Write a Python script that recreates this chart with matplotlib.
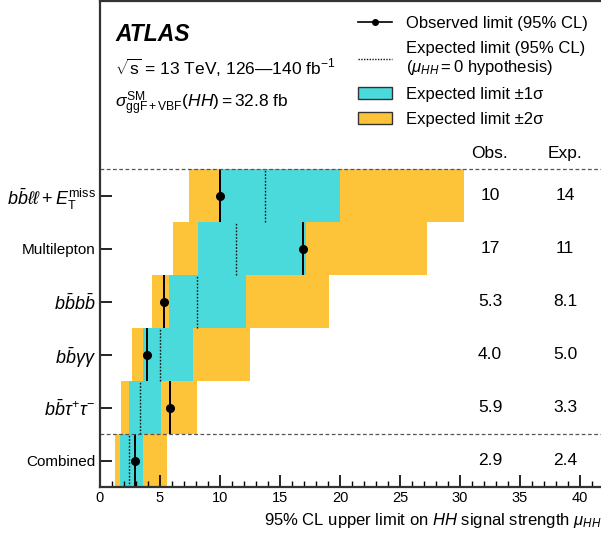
import numpy as np
import matplotlib.pyplot as plt
from matplotlib.lines import Line2D
from matplotlib.patches import Patch

plt.rcParams['font.family'] = ['Liberation Sans', 'DejaVu Sans']
plt.rcParams['mathtext.fontset'] = 'custom'
plt.rcParams['mathtext.rm'] = 'Liberation Sans'
plt.rcParams['mathtext.it'] = 'Liberation Sans:italic'
plt.rcParams['mathtext.bf'] = 'Liberation Sans:bold'

# channels, bottom to top
channels = ["Combined", r"$b\bar{b}\tau^{+}\tau^{-}$", r"$b\bar{b}\gamma\gamma$",
            r"$b\bar{b}b\bar{b}$", "Multilepton",
            r"$b\bar{b}\ell\ell + E_{\mathrm{T}}^{\mathrm{miss}}$"]
obs = [2.9, 5.85, 3.95, 5.3, 16.9, 10.0]
exp = [2.4, 3.3, 5.0, 8.1, 11.3, 13.75]
m1s = [1.67, 2.42, 3.58, 5.75, 8.17, 10.05]
p1s = [3.58, 5.08, 7.75, 12.17, 17.2, 20.0]
m2s = [1.25, 1.75, 2.67, 4.33, 6.08, 7.42]
p2s = [5.58, 8.08, 12.5, 19.1, 27.25, 30.3]
obs_txt = ["2.9", "5.9", "4.0", "5.3", "17", "10"]
exp_txt = ["2.4", "3.3", "5.0", "8.1", "11", "14"]

cyan = "#4bdadb"
yellow = "#fdc43a"

W, H = 601, 536
fig = plt.figure(figsize=(W / 100, H / 100), dpi=100)
ax = fig.add_axes([100 / W, (H - 487.3) / H, 501 / W, 486.3 / H])

y = np.arange(len(channels))
m2s, p2s, m1s, p1s = map(np.array, (m2s, p2s, m1s, p1s))
ax.barh(y, p2s - m2s, left=m2s, height=1.0, color=yellow, lw=0)
ax.barh(y, p1s - m1s, left=m1s, height=1.0, color=cyan, lw=0)
ax.vlines(exp, y - 0.5, y + 0.5, colors="#111", linestyles=(0, (1.2, 1.2)), lw=1.0)
ax.vlines(obs, y - 0.5, y + 0.5, colors="k", lw=1.4)
ax.plot(obs, y, "o", color="k", ms=5.5, ls="none")

for yy in (0.5, 5.5):
    ax.axhline(yy, color="#555", lw=0.9, ls=(0, (3, 2)))

for i in range(len(channels)):
    ax.text(32.5, y[i], obs_txt[i], ha="center", va="center", fontsize=12.5)
    ax.text(38.75, y[i], exp_txt[i], ha="center", va="center", fontsize=12.5)
ax.text(32.5, 5.81, "Obs.", ha="center", va="center", fontsize=12.5)
ax.text(38.75, 5.81, "Exp.", ha="center", va="center", fontsize=12.5)

ax.set_xlim(0, 501 / 12)
ax.set_ylim(-0.5, 8.68)
ax.set_yticks(y)
ax.set_yticklabels(channels, fontsize=11)
for lab in ax.get_yticklabels():
    if lab.get_text().startswith("$"):
        lab.set_fontsize(13)
ax.set_xticks(np.arange(0, 41, 5))
ax.set_xticks(np.arange(0, 42, 1), minor=True)
ax.tick_params(axis="x", which="major", direction="in", length=8.5, width=1.2,
               labelsize=10.5, pad=3)
ax.tick_params(axis="x", which="minor", direction="in", length=4.3, width=1)
ax.tick_params(axis="y", which="major", direction="in", length=8.5, width=1.2, pad=3)
ax.tick_params(axis="y", which="minor", left=False)
for s in ("left", "top", "bottom"):
    ax.spines[s].set_linewidth(1.6)
    ax.spines[s].set_color("#333")
ax.spines["right"].set_visible(False)

ax.set_xlabel(r"95% CL upper limit on $HH$ signal strength $\mu_{HH}$",
              fontsize=12, loc="right", labelpad=4)

def fx(px):
    return px / W

def fy(py):
    return 1 - py / H

fig.text(fx(115), fy(41), "ATLAS", fontsize=16.5, fontweight="bold",
         fontstyle="italic", va="baseline")
fig.text(fx(115), fy(75), r"$\sqrt{\mathrm{s}}$ = 13 TeV, 126—140 fb$^{-1}$",
         fontsize=12.5, va="baseline")
fig.text(fx(115), fy(108),
         r"$\sigma^{\mathrm{SM}}_{\mathrm{ggF+VBF}}(HH) = 32.8$ fb",
         fontsize=12.5, va="baseline")

handles = [
    Line2D([], [], color="k", lw=1.2, marker="o", ms=4, markevery=[1]),
    Line2D([], [], color="#111", lw=1.0, ls=(0, (1, 1))),
    Patch(facecolor=cyan, edgecolor="#333", lw=1),
    Patch(facecolor=yellow, edgecolor="#333", lw=1),
]
labels = ["Observed limit (95% CL)",
          "Expected limit (95% CL)\n" + r"($\mu_{HH} = 0$ hypothesis)",
          "Expected limit ±1σ",
          "Expected limit ±2σ"]
fig.legend(handles, labels, loc="upper left", bbox_to_anchor=(fx(358), fy(16)),
           frameon=False, fontsize=12, handlelength=2.05, handletextpad=0.8,
           labelspacing=0.58, borderpad=0, borderaxespad=0, handleheight=0.75)

fig.savefig("out.png", dpi=100)
